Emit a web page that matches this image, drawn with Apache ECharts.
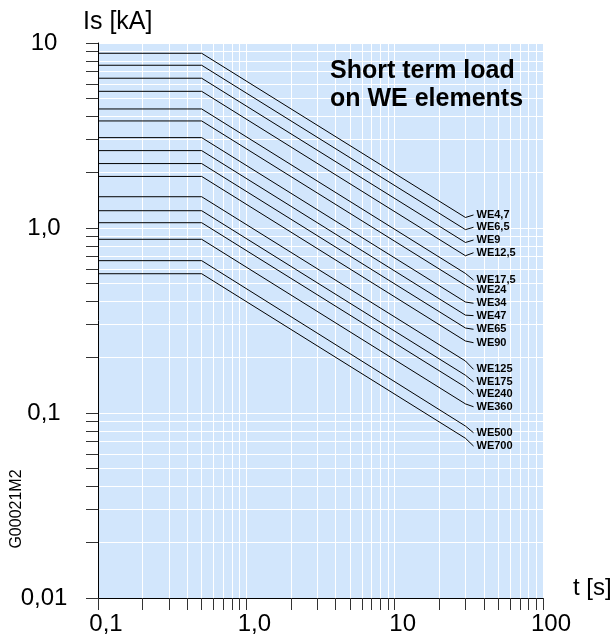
<!DOCTYPE html>
<html><head><meta charset="utf-8">
<script src="https://cdn.jsdelivr.net/npm/echarts@6/dist/echarts.min.js"></script>
<style>html,body{margin:0;padding:0;background:#fff}#c{width:614px;height:644px}</style>
</head><body><div id="c"></div>
<script>
const seriesNames = ['WE4,7','WE6,5','WE9','WE12,5','WE17,5','WE24','WE34','WE47','WE65','WE90','WE125','WE175','WE240','WE360','WE500','WE700'];
// Is [kA] on the flat part (t = 0.1 .. 0.5 s)
const plateauKA = [8.8, 7.58, 6.45, 5.48, 4.4, 3.79, 3.08, 2.62, 2.23, 1.9, 1.476, 1.24, 1.068, 0.869, 0.666, 0.566];
// Is [kA] at t = 30 s (end of sloped part)
const endKA = [1.14, 0.98, 0.835, 0.708, 0.568, 0.49, 0.398, 0.338, 0.288, 0.245, 0.191, 0.16, 0.138, 0.112, 0.085, 0.073];
// level of the label leader end
const labelKA = [1.176, 1.009, 0.861, 0.735, 0.5235, 0.462, 0.392, 0.336, 0.2834, 0.2399, 0.1722, 0.1476, 0.1266, 0.1081, 0.0782, 0.0663];
const tPoints = [0.1, 0.5, 30, 34];

const xTickValues = [0.1,0.2,0.3,0.4,0.5,0.6,0.7,0.8,0.9,1,2,3,4,5,6,7,8,9,10,20,30,40,50,60,70,80,90,100];
const yTickValues = [0.01,0.02,0.03,0.04,0.05,0.06,0.07,0.08,0.09,0.1,0.2,0.3,0.4,0.5,0.6,0.7,0.8,0.9,1,2,3,4,5,6,7,8,9,10];
const xLabelValues = [0.1, 1, 10, 100];
const xLabelTexts = ['0,1', '1,0', '10', '100'];
const yLabelValues = [0.01, 0.1, 1, 10];
const yLabelTexts = ['0,01', '0,1', '1,0', '10'];

const FONT = 'Liberation Sans, Arial, Helvetica, sans-serif';
function lookup(vals, texts, v) {
  for (let i = 0; i < vals.length; i++) {
    if (Math.abs(v - vals[i]) / vals[i] < 1e-6) return texts[i];
  }
  return '';
}

const series = seriesNames.map((name, i) => ({
  name: name,
  type: 'line',
  showSymbol: false,
  symbol: 'none',
  silent: true,
  clip: false,
  lineStyle: { color: '#000', width: 1 },
  data: [
    [tPoints[0], plateauKA[i]],
    [tPoints[1], plateauKA[i]],
    [tPoints[2], endKA[i]],
    [tPoints[3], labelKA[i]]
  ],
  endLabel: {
    show: true,
    formatter: '{a}',
    distance: 3,
    color: '#000',
    fontFamily: FONT,
    fontWeight: 'bold',
    fontSize: 11
  }
}));

const chart = echarts.init(document.getElementById('c'), null, { renderer: 'canvas' });
chart.setOption({
  animation: false,
  backgroundColor: '#fff',
  grid: { left: 98, right: 71, top: 43, bottom: 46, show: true, backgroundColor: '#d2e6fc', borderWidth: 0 },
  xAxis: {
    type: 'log', logBase: 10, min: 0.1, max: 100,
    axisLine: { show: true, lineStyle: { color: '#000', width: 1 } },
    axisTick: { show: true, inside: false, length: 12, customValues: xTickValues, lineStyle: { color: '#333', width: 1 } },
    axisLabel: {
      customValues: xLabelValues,
      formatter: v => lookup(xLabelValues, xLabelTexts, v),
      fontSize: 24, fontFamily: FONT, color: '#000', margin: 14,
      padding: [0, 0, 0, 16]
    },
    splitLine: { show: true, lineStyle: { color: '#fff', width: 1 } },
    minorTick: { show: false }, minorSplitLine: { show: false }
  },
  yAxis: {
    type: 'log', logBase: 10, min: 0.01, max: 10,
    axisLine: { show: true, lineStyle: { color: '#000', width: 1 } },
    axisTick: { show: true, inside: false, length: 12, customValues: yTickValues, lineStyle: { color: '#333', width: 1 } },
    axisLabel: {
      customValues: yLabelValues,
      formatter: v => lookup(yLabelValues, yLabelTexts, v),
      fontSize: 24, fontFamily: FONT, color: '#000', margin: 54, align: 'center'
    },
    splitLine: { show: true, lineStyle: { color: '#fff', width: 1 } },
    minorTick: { show: false }, minorSplitLine: { show: false }
  },
  graphic: [
    { type: 'text', left: 330, top: 57, z: 10, style: { text: 'Short term load\non WE elements', font: 'bold 25px ' + FONT, lineHeight: 28, fill: '#000' } },
    { type: 'text', x: 83, y: 22, style: { text: 'Is [kA]', font: '25px ' + FONT, fill: '#000', verticalAlign: 'middle', align: 'left' } },
    { type: 'text', x: 573, y: 588, style: { text: 't [s]', font: '24px ' + FONT, fill: '#000', verticalAlign: 'middle', align: 'left' } },
    { type: 'text', x: 17, y: 509, rotation: Math.PI / 2, style: { text: 'G00021M2', font: '16px ' + FONT, fill: '#000', verticalAlign: 'middle', align: 'center' } }
  ],
  series: series
});
</script>
</body></html>
